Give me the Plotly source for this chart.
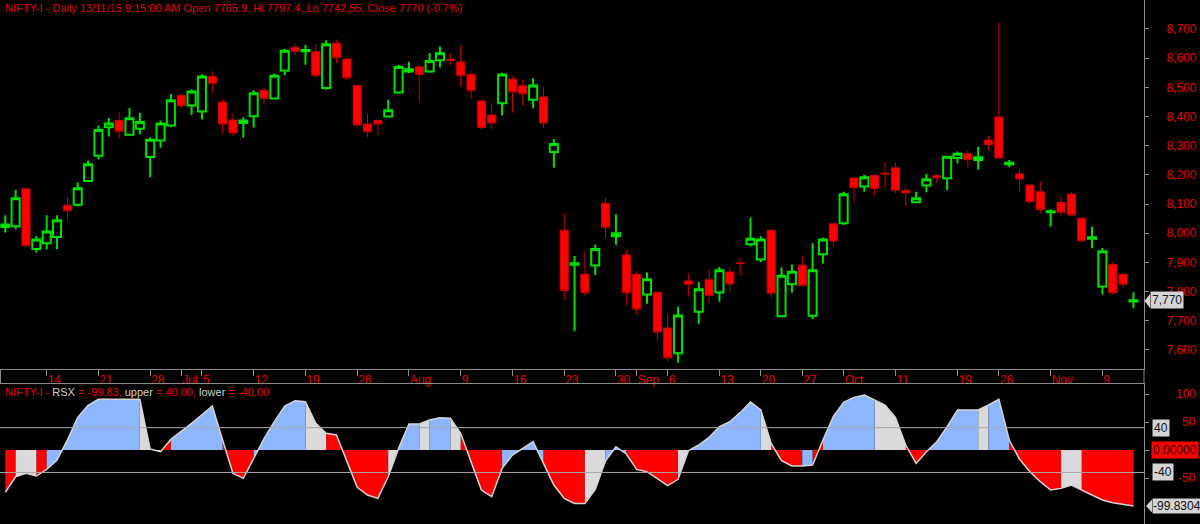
import plotly.graph_objects as go

# ---------------- data ----------------
opens = [8021, 8024, 8152, 7946, 7965, 7987, 8096, 8097, 8179, 8265,
         8363, 8386, 8337, 8358, 8261, 8318, 8369, 8473, 8438, 8417,
         8537, 8449, 8388, 8378, 8401, 8490, 8462, 8558, 8637, 8624,
         8622, 8498, 8651, 8597, 8506, 8374, 8386, 8400, 8482, 8554,
         8570, 8554, 8593, 8596, 8587, 8544, 8453, 8405, 8445, 8528,
         8505, 8457, 8467, 8278, 8010, 7892, 7859, 7889, 8102, 7989,
         7925, 7859, 7790, 7797, 7675, 7588, 7836, 7731, 7840, 7797,
         7867, 7898, 7962, 7910, 8010, 7715, 7825, 7890, 7717, 7928,
         8032, 8034, 8189, 8160, 8198, 8206, 8224, 8146, 8106, 8163,
         8197, 8188, 8258, 8272, 8251, 8319, 8398, 8236, 8203, 8165,
         8142, 8072, 8105, 8134, 8051, 7981, 7817, 7893, 7859, 7765.9]
highs = [8061, 8148, 8153, 7990, 8061, 8061, 8124, 8174, 8248, 8369,
         8395, 8414, 8429, 8412, 8329, 8386, 8477, 8475, 8493, 8545,
         8555, 8460, 8411, 8397, 8490, 8500, 8547, 8632, 8651, 8645,
         8649, 8661, 8664, 8599, 8508, 8409, 8387, 8457, 8577, 8588,
         8577, 8618, 8640, 8617, 8645, 8556, 8455, 8443, 8550, 8538,
         8528, 8531, 8502, 8323, 8070, 7922, 7936, 7960, 8121, 8065,
         7942, 7870, 7865, 7799, 7723, 7748, 7862, 7833, 7874, 7884,
         7884, 7915, 8054, 7989, 8011, 7883, 7893, 7924, 7965, 7984,
         8033, 8142, 8190, 8200, 8199, 8244, 8243, 8157, 8142, 8203,
         8203, 8263, 8280, 8285, 8295, 8335, 8722, 8251, 8221, 8166,
         8178, 8082, 8128, 8142, 8052, 8022, 7949, 7902, 7860, 7797.4]
lows = [8002, 8013, 7952, 7933, 7945, 7945, 8043, 8091, 8179, 8253,
        8331, 8324, 8334, 8339, 8192, 8293, 8363, 8427, 8405, 8390,
        8482, 8342, 8333, 8328, 8362, 8441, 8460, 8541, 8611, 8577,
        8533, 8492, 8582, 8525, 8363, 8329, 8337, 8398, 8478, 8549,
        8451, 8550, 8568, 8577, 8504, 8462, 8356, 8358, 8403, 8413,
        8437, 8428, 8360, 8224, 7771, 7664, 7785, 7857, 7982, 7960,
        7752, 7720, 7758, 7632, 7560, 7556, 7782, 7689, 7757, 7765,
        7800, 7853, 7954, 7901, 7779, 7714, 7796, 7819, 7706, 7896,
        7952, 8028, 8106, 8142, 8129, 8153, 8137, 8093, 8105, 8140,
        8172, 8148, 8240, 8225, 8217, 8285, 8255, 8226, 8140, 8102,
        8068, 8022, 8057, 8057, 7972, 7948, 7790, 7790, 7813, 7742.55]
closes = [8030, 8120, 7957, 7978, 8006, 8044, 8077, 8154, 8236, 8354,
          8376, 8349, 8394, 8381, 8320, 8376, 8456, 8437, 8486, 8537,
          8514, 8374, 8344, 8386, 8480, 8462, 8540, 8625, 8624, 8628,
          8541, 8648, 8602, 8533, 8371, 8348, 8374, 8421, 8570, 8562,
          8545, 8590, 8617, 8593, 8541, 8489, 8362, 8378, 8544, 8485,
          8478, 8506, 8378, 8306, 7803, 7897, 7796, 7946, 8020, 8000,
          7796, 7740, 7842, 7661, 7573, 7718, 7825, 7808, 7787, 7873,
          7826, 7896, 7981, 7978, 7794, 7854, 7868, 7821, 7873, 7978,
          7973, 8133, 8156, 8192, 8153, 8203, 8147, 8138, 8120, 8185,
          8190, 8262, 8272, 8252, 8260, 8304, 8258, 8241, 8186, 8108,
          8081, 8075, 8072, 8062, 7974, 7986, 7938, 7796, 7825, 7770]

rsx = [-75.5, -47.6, -41.6, -46.4, -34.5, -17.8, 17.9, 58.4, 79.8, 90.5,
       90.5, 90.5, 90.5, 90.5, 1.8, -3.0, 19.0, 32.8, 47.6, 63.1,
       78.6, 17.9, -41.6, -50.5, -14.0, 20.3, 50.6, 78.6, 88.1, 86.3,
       47.6, 29.8, 26.8, -20.8, -66.6, -80.3, -86.2, -47.6, 3.0, 46.5,
       46.5, 53.6, 57.8, 56.6, 29.8, -20.8, -71.4, -83.3, -32.7, -8.9,
       3.0, 14.9, -23.8, -62.4, -86.2, -95.2, -95.2, -70.2, -19.0, 6.0,
       -7.0, -34.5, -38.6, -50.5, -63.6, -52.3, -1.1, 9.0, 22.7, 41.7,
       50.6, 66.7, 85.7, 71.5, 11.9, -19.0, -28.5, -28.5, -26.7, 17.9,
       59.5, 85.1, 94.0, 98.2, 89.3, 80.4, 58.4, 9.0, -23.8, -3.0,
       14.9, 41.7, 71.5, 71.5, 71.5, 80.4, 90.5, 17.9, -16.6, -38.6,
       -56.5, -71.4, -68.4, -62.4, -71.4, -80.3, -89.2, -94.0, -97.0, -99.83]

# state of each RSX segment (segment ending at that bar)
rsx_state = (['dn', 'dn', 'flat', 'flat', 'dn'] + ['up'] * 9 + ['flat', 'flat', 'dn'] +
             ['up'] * 5 + ['dn'] * 3 + ['up'] * 5 + ['flat'] * 2 + ['dn'] * 6 +
             ['flat'] + ['up'] * 2 + ['flat'] + ['up'] * 2 + ['flat'] + ['dn'] * 4 +
             ['up'] * 4 + ['dn'] * 4 + ['flat'] * 2 + ['up'] * 2 + ['dn'] * 5 +
             ['flat'] + ['up'] * 7 + ['flat'] + ['dn'] * 3 + ['up'] + ['dn'] +
             ['up'] * 5 + ['flat'] * 3 + ['dn'] * 2 + ['up'] * 5 + ['flat'] +
             ['up'] * 2 + ['dn'] * 5 + ['flat'] * 2 + ['dn'] * 5)

upper, lower = 40, -40

date_tick_bars = [4, 9, 14, 17, 19, 24, 29, 34, 39, 44, 49, 54, 59, 61, 64,
                  69, 73, 77, 81, 86, 92, 96, 101, 106]
date_tick_text = ['14', '21', '28', 'Jul', '5', '12', '19', '26', 'Aug', '9',
                  '16', '23', '30', 'Sep', '6', '13', '20', '27', 'Oct', '11',
                  '19', '26', 'Nov', '9']
price_ticks = list(range(7600, 8701, 100))
rsx_ticks = [100, 50, 0, -50]
rsx_tick_text = ['100', '50', '', '-50']

title_text = "NIFTY-I - Daily 13/11/15 9:15:00 AM Open 7765.9, Hi 7797.4, Lo 7742.55, Close 7770 (-0.7%)"

# ---------------- figure ----------------
W, H = 1200, 524
PR = 1144 / W              # right edge of plotting area (paper)
n = len(closes)
idx = list(range(n))
RED = '#e80000'
FONT = 'Liberation Sans, Arial, sans-serif'


def py(p):
    return 1 - p / H


fig = go.Figure()

fig.add_trace(go.Candlestick(
    x=idx, open=opens, high=highs, low=lows, close=closes,
    increasing=dict(line=dict(color='#00e000', width=2), fillcolor='#000000'),
    decreasing=dict(line=dict(color='#d00000', width=1), fillcolor='#ff0000'),
    whiskerwidth=0, hoverinfo='skip', xaxis='x', yaxis='y'))

# RSX coloured area fills
state_color = {'dn': '#ff0000', 'flat': '#dadada', 'up': '#8db6ff'}
polys = {s: ([], []) for s in state_color}
k = 1
while k < n:
    s = rsx_state[k]
    j = k
    while j + 1 < n and rsx_state[j + 1] == s:
        j += 1
    xs = [k - 1] + list(range(k - 1, j + 1)) + [j, None]
    ys = [0] + rsx[k - 1:j + 1] + [0, None]
    polys[s][0].extend(xs)
    polys[s][1].extend(ys)
    k = j + 1
for s, (xs, ys) in polys.items():
    fig.add_trace(go.Scatter(x=xs, y=ys, mode='lines', fill='toself',
                             fillcolor=state_color[s], line=dict(width=0),
                             hoverinfo='skip', xaxis='x2', yaxis='y2'))

fig.add_trace(go.Scatter(x=idx, y=rsx, mode='lines',
                         line=dict(color='#d4d4d4', width=1.5),
                         hoverinfo='skip', xaxis='x2', yaxis='y2'))

xr = [-0.51, 110.02]
axis_grey = '#8c8c8c'
fig.update_layout(
    width=W, height=H,
    margin=dict(l=0, r=0, t=0, b=0, pad=0, autoexpand=False),
    paper_bgcolor='#000000', plot_bgcolor='#000000',
    showlegend=False,
    boxgap=0.22, boxgroupgap=0,
    font=dict(family=FONT, size=12, color=RED),
    xaxis=dict(domain=[0, PR], range=xr, anchor='y', rangeslider=dict(visible=False),
               showgrid=False, zeroline=False, showline=True, linecolor=axis_grey,
               ticks='outside', ticklen=6, tickcolor=axis_grey, tickangle=0,
               tickvals=date_tick_bars, ticktext=date_tick_text,
               ticklabelposition='outside right', automargin=False,
               tickfont=dict(color=RED, size=12)),
    yaxis=dict(domain=[py(369), 1], range=[7534.3, 8799.4], anchor='x', side='right',
               showgrid=False, zeroline=False, showline=True, mirror=True,
               linecolor=axis_grey, ticks='outside', ticklen=4, tickcolor=axis_grey,
               tickvals=price_ticks, tickformat=',d', ticklabelstandoff=15,
               automargin=False, tickfont=dict(color=RED, size=12)),
    xaxis2=dict(domain=[0, PR], range=xr, anchor='y2', matches='x', side='top',
                showgrid=False, zeroline=False, showline=True, linecolor=axis_grey,
                ticks='', showticklabels=False, automargin=False),
    yaxis2=dict(domain=[0, py(384)], range=[-132, 117.9], anchor='x2', side='right',
                showgrid=False, zeroline=False, showline=True, mirror=True,
                linecolor=axis_grey, ticks='outside', ticklen=4, tickcolor=axis_grey,
                tickvals=rsx_ticks, showticklabels=False, automargin=False),
)

shapes = []
for lvl in (upper, lower):
    shapes.append(dict(type='line', xref='paper', x0=0, x1=PR, yref='y2', y0=lvl, y1=lvl,
                       line=dict(color='#a8a8a8', width=1), layer='above'))
# right/left axis line continuing through the date strip
for xx in (0.5 / W, PR):
    shapes.append(dict(type='line', xref='paper', x0=xx, x1=xx, yref='paper',
                       y0=py(369), y1=py(384), line=dict(color=axis_grey, width=1)))
# arrow tips of the value labels
last_close = closes[-1]
shapes.append(dict(type='path', xref='paper', yref='paper',
                   path=f"M {1144.5/W},{py(301)} L {1150/W},{py(294)} L {1150/W},{py(308)} Z",
                   fillcolor='#d4d4d4', line=dict(width=0)))
shapes.append(dict(type='path', xref='paper', yref='paper',
                   path=f"M {1146/W},{py(506)} L {1152/W},{py(499.5)} L {1152/W},{py(512.5)} Z",
                   fillcolor='#d4d4d4', line=dict(width=0)))
fig.update_layout(shapes=shapes)

ann = []
ann.append(dict(text=title_text, xref='paper', yref='paper', x=3 / W, y=py(8),
                xanchor='left', yanchor='middle', showarrow=False,
                font=dict(color=RED, size=11)))
grey_txt = '#cfcfcf'
rsx_title = (f"NIFTY-I - <span style='color:{grey_txt}'>RSX</span> = {rsx[-1]:.2f}, "
             f"<span style='color:{grey_txt}'>upper</span> = {upper:.2f}, "
             f"<span style='color:{grey_txt}'>lower</span> = {lower:.2f}")
ann.append(dict(text=rsx_title, xref='paper', yref='paper', x=3 / W, y=py(392),
                xanchor='left', yanchor='middle', showarrow=False,
                font=dict(color=RED, size=11)))
# last price label
ann.append(dict(text=f"{last_close:,.0f}", xref='paper', yref='y', x=1150 / W, y=last_close,
                xanchor='left', yanchor='middle', showarrow=False, bgcolor='#d4d4d4',
                font=dict(color='#101830', size=12), borderpad=1))
# RSX axis labels (right aligned)
for v, t in zip(rsx_ticks, rsx_tick_text):
    if t:
        ann.append(dict(text=t, xref='paper', yref='y2', x=1198 / W, y=v,
                        xanchor='right', yanchor='middle', showarrow=False,
                        font=dict(color=RED, size=12)))
for v in (upper, lower):
    ann.append(dict(text=f"{v}", xref='paper', yref='y2', x=1152 / W, y=v,
                    xanchor='left', yanchor='middle', showarrow=False, bgcolor='#d4d4d4',
                    font=dict(color='#101010', size=12), borderpad=1))
ann.append(dict(text="0.00000", xref='paper', yref='y2', x=1151 / W, y=0,
                xanchor='left', yanchor='middle', showarrow=False, bgcolor='#ff0000',
                font=dict(color='#2a0000', size=12), borderpad=1))
ann.append(dict(text=f"{rsx[-1] - 0.0004:.4f}", xref='paper', yref='y2', x=1152 / W, y=rsx[-1],
                xanchor='left', yanchor='middle', showarrow=False, bgcolor='#d4d4d4',
                font=dict(color='#101010', size=12), borderpad=0))
fig.update_layout(annotations=ann)

fig.write_html("out.html",
               config={'displayModeBar': False, 'staticPlot': True},
               post_script="document.body.style.margin='0';document.body.style.padding='0';"
                           "document.body.style.overflow='hidden';")
